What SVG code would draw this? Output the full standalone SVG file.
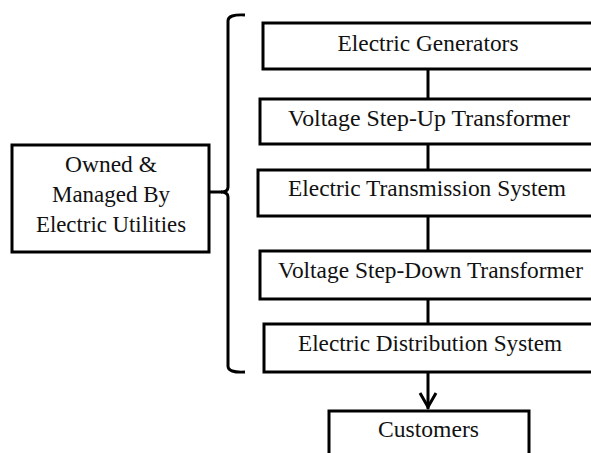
<svg xmlns="http://www.w3.org/2000/svg" width="591" height="453" viewBox="0 0 591 453">
<style>
.box{fill:#fff;stroke:#000;stroke-width:3}
.t{font-family:"Liberation Serif","Times New Roman",serif;font-size:22.5px;fill:#111;text-anchor:middle}
.c{fill:none;stroke:#000;stroke-width:3}
</style>
<rect width="591" height="453" fill="#fff"/>
<g id="connectors">
<line class="c" x1="428" y1="69" x2="428" y2="99"/>
<line class="c" x1="428" y1="144" x2="428" y2="170"/>
<line class="c" x1="428" y1="216" x2="428" y2="251"/>
<line class="c" x1="428" y1="299" x2="428" y2="324"/>
<line class="c" x1="428" y1="372" x2="428" y2="409"/>
<polyline class="c" points="420,393 428,407 436,393"/>
<path class="c" d="M245,15 Q228,14 228,21 L228,187 Q228,192 221,192 Q228,192 228,197 L228,366 Q228,373 245,372"/>
<line class="c" x1="209" y1="192" x2="222" y2="192"/>
</g>
<g id="owned">
<rect class="box" x="12" y="145" width="197" height="107"/>
<text class="t" x="111" y="172" textLength="92" lengthAdjust="spacingAndGlyphs">Owned &amp;</text>
<text class="t" x="111" y="202" textLength="118" lengthAdjust="spacingAndGlyphs">Managed By</text>
<text class="t" x="111" y="232" textLength="150" lengthAdjust="spacingAndGlyphs">Electric Utilities</text>
</g>
<g id="generators">
<rect class="box" x="263" y="23" width="340" height="46"/>
<text class="t" x="428" y="51" textLength="181" lengthAdjust="spacingAndGlyphs">Electric Generators</text>
</g>
<g id="stepup">
<rect class="box" x="260" y="99" width="340" height="45"/>
<text class="t" x="429" y="126" textLength="282" lengthAdjust="spacingAndGlyphs">Voltage Step-Up Transformer</text>
</g>
<g id="transmission">
<rect class="box" x="258" y="170" width="340" height="46"/>
<text class="t" x="427" y="196" textLength="278" lengthAdjust="spacingAndGlyphs">Electric Transmission System</text>
</g>
<g id="stepdown">
<rect class="box" x="260" y="251" width="340" height="48"/>
<text class="t" x="430.5" y="278" textLength="305" lengthAdjust="spacingAndGlyphs">Voltage Step-Down Transformer</text>
</g>
<g id="distribution">
<rect class="box" x="264" y="324" width="340" height="48"/>
<text class="t" x="430" y="351" textLength="264" lengthAdjust="spacingAndGlyphs">Electric Distribution System</text>
</g>
<g id="customers">
<rect class="box" x="329" y="411" width="200" height="60"/>
<text class="t" x="428.5" y="437" textLength="101" lengthAdjust="spacingAndGlyphs">Customers</text>
</g>
</svg>
